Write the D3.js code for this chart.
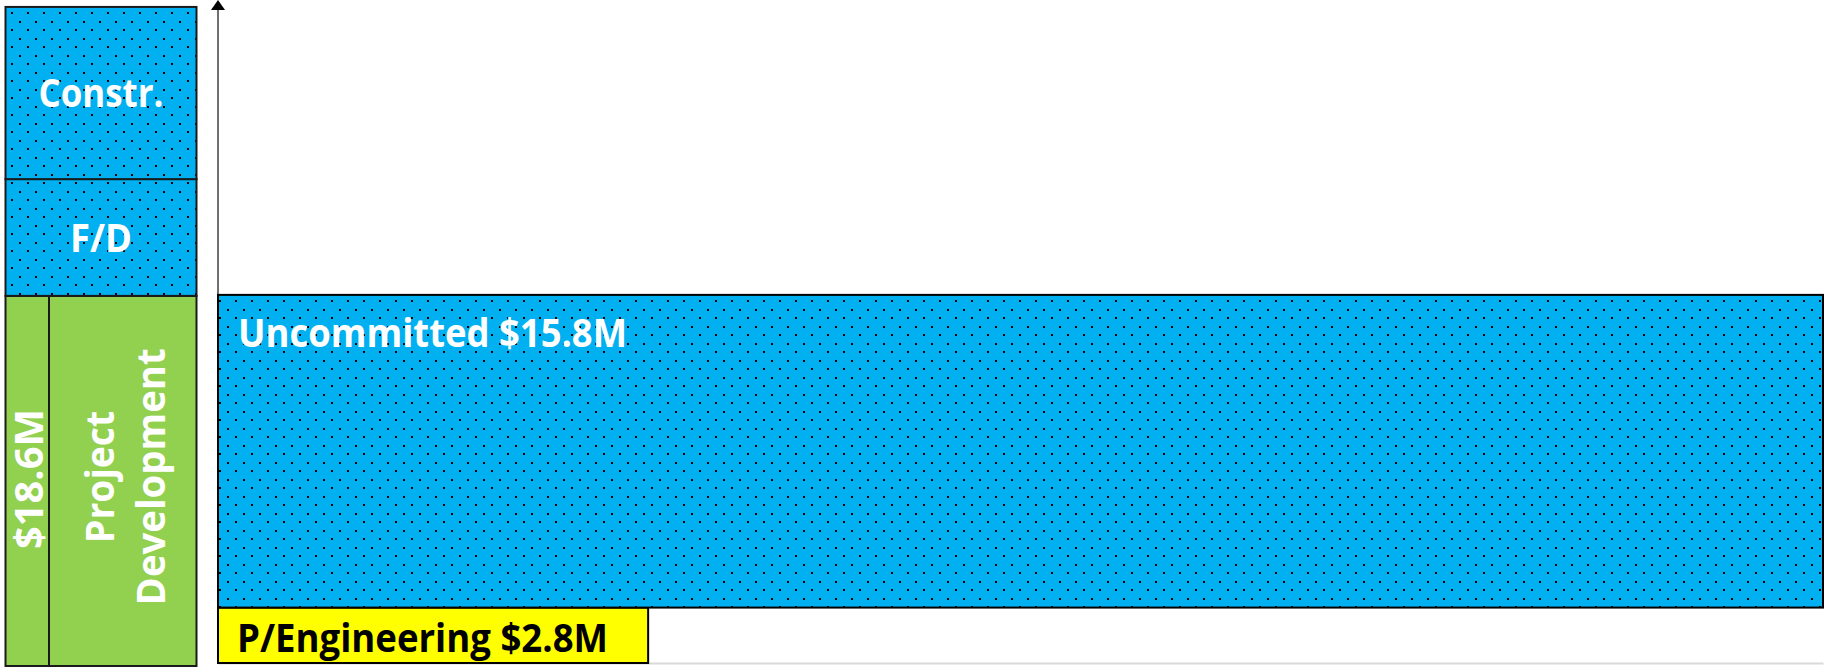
<!DOCTYPE html>
<html>
<head>
<meta charset="utf-8">
<script src="https://cdn.jsdelivr.net/npm/d3@7"></script>
<style>
	body { margin: 0; background: #fff; }
	svg { display: block; }
	text { font-family: 'Open Sans', sans-serif; font-weight: 700; }
</style>
</head>
<body>
<div id="canvas"></div>
<script>
// phases stacked on the left (bottom to top), $M
const phases = ['Project Development', 'F/D', 'Constr.'];
const phaseValues = [18.6, 5.9, 8.7];
const phaseLabels = ['$18.6M', 'F/D', 'Constr.'];

// breakdown of project development (bottom to top), $M
const parts = ['P/Engineering', 'Uncommitted'];
const partValues = [2.8, 15.8];
const partLabels = ['P/Engineering $2.8M', 'Uncommitted $15.8M'];

const W = 1825, H = 667;
const BLUE = '#00B0F0', GREEN = '#92D050', YELLOW = '#FFFF00';

const svg = d3.select('#canvas').append('svg')
	.attr('width', W)
	.attr('height', H);

const defs = svg.append('defs');
const pat = defs.append('pattern')
	.attr('id', 'dots')
	.attr('patternUnits', 'userSpaceOnUse')
	.attr('width', 16).attr('height', 17);
pat.append('rect').attr('width', 16).attr('height', 17).attr('fill', BLUE);
pat.append('rect').attr('x', 3).attr('y', 3).attr('width', 2).attr('height', 2).attr('fill', '#000');
pat.append('rect').attr('x', 11).attr('y', 11).attr('width', 2).attr('height', 2).attr('fill', '#000');

const y = d3.scaleLinear().domain([0, 33.5]).range([663, 0]);
const x = d3.scaleLinear().domain([0, 1]).range([218, 1823]);

function stack(vals){
	let acc = 0;
	return vals.map(v => { const d = {y0: acc, y1: acc + v}; acc += v; return d; });
}

// left column
const left = svg.append('g').attr('class', 'phases').attr('transform', 'translate(0,1)');
const pStack = stack(phaseValues);

left.selectAll('rect.phase').data(pStack)
	.enter().append('rect')
	.attr('class', 'phase')
	.attr('x', 5.5)
	.attr('width', 191)
	.attr('y', d => y(d.y1))
	.attr('height', d => y(d.y0) - y(d.y1) + (d.y0 === 0 ? 2 : 0))
	.attr('fill', (d, i) => i === 0 ? GREEN : 'url(#dots)')
	.attr('stroke', '#1a1a1a')
	.attr('stroke-width', 2);

left.append('line')
	.attr('x1', 49).attr('x2', 49)
	.attr('y1', y(pStack[0].y0) + 2).attr('y2', y(pStack[0].y1))
	.attr('stroke', '#1a1a1a').attr('stroke-width', 2);

const midP = (pStack[0].y0 + pStack[0].y1) / 2;
left.append('text')
	.attr('transform', 'translate(29,' + (y(midP) - 1) + ') rotate(-90)')
	.attr('text-anchor', 'middle')
	.attr('dy', '0.36em')
	.attr('fill', '#fff')
	.style('font-size', '39px')
	.attr('textLength', 140).attr('lengthAdjust', 'spacingAndGlyphs')
	.text(phaseLabels[0]);

const pd = left.append('text')
	.attr('transform', 'translate(126,' + (y(midP) - 3) + ') rotate(-90)')
	.attr('text-anchor', 'middle')
	.attr('fill', '#fff')
	.style('font-size', '39px');
pd.append('tspan').attr('x', 0).attr('dy', '-0.3em')
	.attr('textLength', 132).attr('lengthAdjust', 'spacingAndGlyphs')
	.text('Project');
pd.append('tspan').attr('x', 0).attr('dy', '1.3em')
	.attr('textLength', 257).attr('lengthAdjust', 'spacingAndGlyphs')
	.text('Development');

left.selectAll('text.phase').data(pStack.slice(1))
	.enter().append('text')
	.attr('class', 'phase')
	.attr('x', 101)
	.attr('y', d => (y(d.y0) + y(d.y1)) / 2)
	.attr('dy', '0.36em')
	.attr('text-anchor', 'middle')
	.attr('fill', '#fff')
	.style('font-size', '39px')
	.attr('textLength', (d, i) => [62, 125][i])
	.attr('lengthAdjust', 'spacingAndGlyphs')
	.text((d, i) => phaseLabels[i + 1]);

// axes
svg.append('g')
	.attr('transform', 'translate(0,663)')
	.call(d3.axisBottom(x).tickValues([]).tickSizeOuter(0))
	.select('.domain').attr('stroke', '#d9d9d9').attr('stroke-width', 2);

const ax = svg.append('g').attr('class', 'y axis');
ax.append('line')
	.attr('x1', x(0)).attr('x2', x(0))
	.attr('y1', y(0)).attr('y2', y(33.5) + 8)
	.attr('stroke', '#404040').attr('stroke-width', 1.5);
ax.append('path')
	.attr('d', 'M' + (x(0) - 7) + ',' + (y(33.5) + 10) + 'L' + x(0) + ',' + y(33.5) + 'L' + (x(0) + 7) + ',' + (y(33.5) + 10) + 'Z')
	.attr('fill', '#000');

// right breakdown
const right = svg.append('g').attr('class', 'parts');
const sStack = stack(partValues);
const partWidth = [0.268, 1];

right.selectAll('rect').data(sStack)
	.enter().append('rect')
	.attr('x', x(0))
	.attr('width', (d, i) => x(partWidth[i]) - x(0))
	.attr('y', d => y(d.y1))
	.attr('height', d => y(d.y0) - y(d.y1))
	.attr('fill', (d, i) => i === 0 ? YELLOW : 'url(#dots)')
	.attr('stroke', '#000')
	.attr('stroke-width', 2);

right.selectAll('text').data(sStack)
	.enter().append('text')
	.attr('x', (d, i) => [237, 238][i])
	.attr('y', (d, i) => i === 0 ? y(d.y0) - 11 : y(d.y1) + 52)
	.attr('fill', (d, i) => i === 0 ? '#000' : '#fff')
	.style('font-size', '39px')
	.attr('textLength', (d, i) => [371, 389][i])
	.attr('lengthAdjust', 'spacingAndGlyphs')
	.text((d, i) => partLabels[i]);
</script>
</body>
</html>
